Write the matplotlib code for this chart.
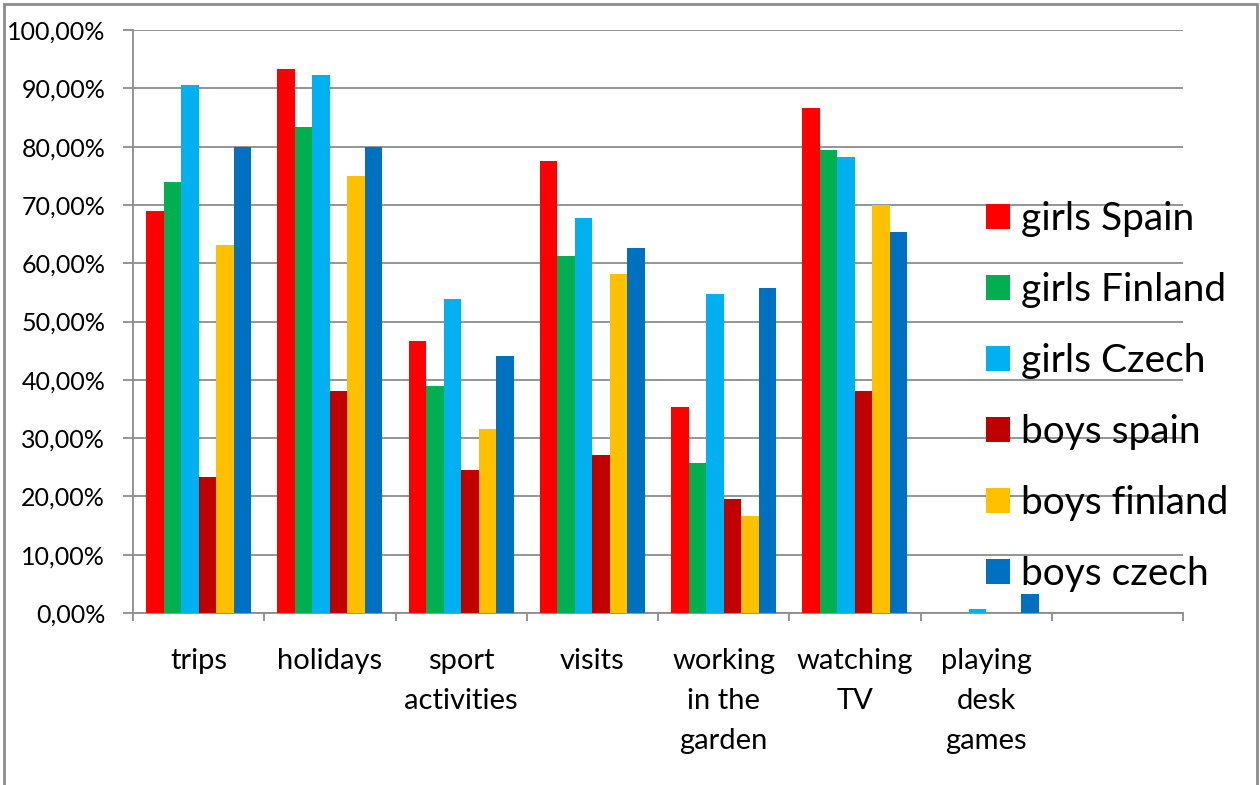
import matplotlib
matplotlib.use('Agg')
import matplotlib.pyplot as plt
import matplotlib.patches as patches
import numpy as np
from matplotlib.ticker import FuncFormatter

plt.rcParams['font.family'] = ['Lato', 'DejaVu Sans']

categories = ['trips', 'holidays', 'sport\nactivities', 'visits',
              'working\nin the\ngarden', 'watching\nTV', 'playing\ndesk\ngames']
series = ['girls Spain', 'girls Finland', 'girls Czech',
          'boys spain', 'boys finland', 'boys czech']
girls_spain = [68.9, 93.3, 46.6, 77.6, 35.4, 86.7, 0.0]
girls_finland = [74.0, 83.4, 38.9, 61.2, 25.8, 79.5, 0.0]
girls_czech = [90.5, 92.2, 53.8, 67.8, 54.7, 78.2, 0.7]
boys_spain = [23.3, 38.1, 24.6, 27.1, 19.5, 38.1, 0.0]
boys_finland = [63.2, 74.9, 31.5, 58.1, 16.6, 70.0, 0.0]
boys_czech = [80.0, 80.0, 44.1, 62.6, 55.7, 65.3, 3.2]
values = [girls_spain, girls_finland, girls_czech, boys_spain, boys_finland, boys_czech]
colors = ['#FF0000', '#00B050', '#00B0F0', '#C00000', '#FFC000', '#0070C0']

W, H = 1260, 785
fig = plt.figure(figsize=(W / 100, H / 100), dpi=100)
ax = fig.add_axes([133 / W, 1 - 613 / H, (1183 - 133) / W, (613 - 30) / H])

n_slots = 8
x = np.arange(len(categories))
bw = 0.8 / len(series)
handles = []
for k, (name, vals, c) in enumerate(zip(series, values, colors)):
    b = ax.bar(x - 0.4 + bw * (k + 0.5), vals, width=bw, color=c, label=name, zorder=3)
    handles.append(b)

ax.set_xlim(-0.5, n_slots - 0.5)
ax.set_ylim(0, 100)
ax.set_yticks(np.arange(0, 101, 10))
ax.yaxis.set_major_formatter(FuncFormatter(lambda v, p: f'{v:.2f}%'.replace('.', ',')))
ax.grid(axis='y', color='#8c8c8c', linewidth=1.3, zorder=0)
ax.set_axisbelow(True)

ax.set_xticks(x)
ax.set_xticklabels(categories, fontsize=21, linespacing=1.68)
ax.set_xticks(np.arange(-0.5, n_slots), minor=True)
ax.tick_params(axis='x', which='major', length=0, pad=25)
ax.tick_params(axis='x', which='minor', length=6, color='#8c8c8c', width=1.3)
ax.tick_params(axis='y', length=7, color='#8c8c8c', width=1.3, labelsize=18, pad=13)

for s in ['top', 'right']:
    ax.spines[s].set_visible(False)
for s in ['left', 'bottom']:
    ax.spines[s].set_color('#8c8c8c')
    ax.spines[s].set_linewidth(1.3)

leg = fig.legend(handles=handles, loc='upper left',
                 bbox_to_anchor=(986 / W, 1 - 201 / H),
                 frameon=False, fontsize=28, handlelength=0.62, handleheight=0.62,
                 handletextpad=0.28, labelspacing=0.9, borderpad=0, borderaxespad=0)

# outer chart border
fig.add_artist(patches.Rectangle((4 / W, -0.05), (1253) / W, 1.05 - 4 / H,
                                 transform=fig.transFigure, fill=False,
                                 edgecolor='#8c8c8c', linewidth=2))

fig.savefig('out.png', dpi=100)
